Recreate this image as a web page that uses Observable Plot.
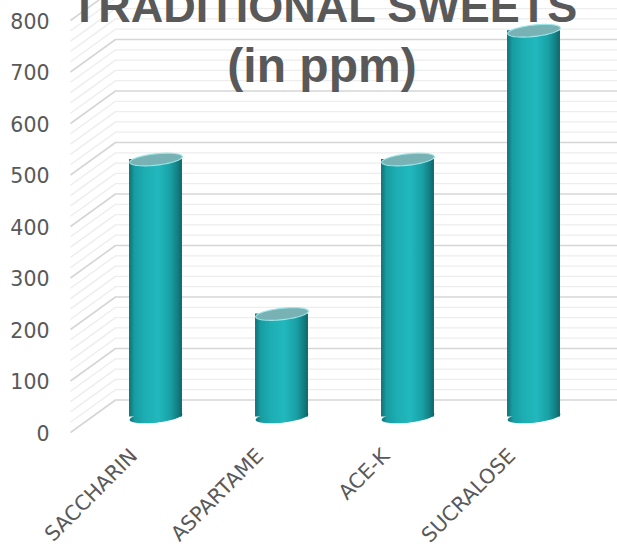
<!DOCTYPE html>
<html>
<head>
<meta charset="utf-8">
<script src="https://cdn.jsdelivr.net/npm/d3@7"></script>
<script src="https://cdn.jsdelivr.net/npm/@observablehq/plot@0.6"></script>
<style>
  html, body { margin: 0; padding: 0; background: #ffffff; }
  #chart svg { display: block; }
</style>
</head>
<body>
<div id="chart"></div>
<script>
// Sweetener concentrations (ppm)
const categories = ["SACCHARIN", "ASPARTAME", "ACE-K", "SUCRALOSE"];
const values = [500, 200, 500, 750];
const yTicks = [0, 100, 200, 300, 400, 500, 600, 700, 800];
const minorStep = 20;
const titleLines = ["TRADITIONAL SWEETS", "(in ppm)"];

const rows = categories.map((category, index) => ({category, index, value: values[index], base: 0}));

// Frame and pseudo-3D depth (pixel offsets of the back wall and front edge from the column plane)
const W = 617, H = 548;
const margin = {left: 92.5, right: 20.5, top: 4.5, bottom: 131.5};
const xDomain = [-0.5, categories.length - 0.5];
const yDomain = [0, 800];
const back = {dx: 22.5, dy: -17};
const front = {dx: -22.5, dy: 15.5};
const halfBar = 0.21;

const xs = Plot.scale({x: {domain: xDomain, range: [margin.left, W - margin.right]}});
const ys = Plot.scale({y: {domain: yDomain, range: [H - margin.bottom, margin.top]}});
const radius = xs.apply(halfBar) - xs.apply(0);

const majorValues = yTicks;
const minorValues = d3.range(yDomain[0], yDomain[1] + 1, minorStep).filter(v => v % 100 !== 0);

// Left side wall: slanted lines from the front edge back to the rear wall
const wallLine = v => ({
  v,
  x1: xs.invert(xs.apply(xDomain[0]) + front.dx),
  y1: ys.invert(ys.apply(v) + front.dy),
  x2: xs.invert(xs.apply(xDomain[0]) + back.dx),
  y2: ys.invert(ys.apply(v) + back.dy)
});

// Flattened ellipse used for the cylinder caps, tilted slightly for perspective
const tilt = -0.11;
const ellipse = {
  draw(context, size) {
    const rx = Math.sqrt(size / Math.PI), ry = rx * 0.215;
    const c = Math.cos(tilt), s = Math.sin(tilt), n = 64;
    for (let i = 0; i <= n; ++i) {
      const t = (2 * Math.PI * i) / n;
      const ex = rx * Math.cos(t), ey = ry * Math.sin(t);
      const px = ex * c - ey * s, py = ex * s + ey * c;
      if (i === 0) context.moveTo(px, py); else context.lineTo(px, py);
    }
    context.closePath();
  }
};

const gridMinor = {stroke: "#ededed", strokeWidth: 1.3};
const gridMajor = {stroke: "#d6d6d6", strokeWidth: 1.6};
const axisFont = "DejaVu Sans, Verdana, sans-serif";
const titleFont = "Liberation Sans, Arial, sans-serif";

const chart = Plot.plot({
  width: W,
  height: H,
  marginLeft: margin.left,
  marginRight: margin.right,
  marginTop: margin.top,
  marginBottom: margin.bottom,
  x: {domain: xDomain, axis: null},
  y: {domain: yDomain, axis: null},
  style: {background: "#ffffff", overflow: "visible"},
  marks: [
    // side wall and back wall gridlines
    Plot.link(minorValues.map(wallLine), {x1: "x1", y1: "y1", x2: "x2", y2: "y2", ...gridMinor}),
    Plot.ruleY(minorValues, {dx: back.dx, dy: back.dy, ...gridMinor}),
    Plot.link(majorValues.map(wallLine), {x1: "x1", y1: "y1", x2: "x2", y2: "y2", ...gridMajor}),
    Plot.ruleY(majorValues, {dx: back.dx, dy: back.dy, ...gridMajor}),

    // cylinders: rounded base, shaded body, lit top cap
    Plot.dot(rows, {x: "index", y: "base", r: radius, symbol: ellipse, fill: "url(#cylinder)", stroke: "none"}),
    Plot.rect(rows, {x1: d => d.index - halfBar, x2: d => d.index + halfBar, y1: "base", y2: "value", fill: "url(#cylinder)"}),
    Plot.dot(rows, {x: "index", y: "value", r: radius, symbol: ellipse, fill: "#78b2b5", stroke: "#9be6e9", strokeWidth: 1.1}),

    // value axis along the front edge
    Plot.axisY(yTicks, {
      tickSize: 0,
      tickPadding: margin.left - 49,
      dy: front.dy + 1.5,
      fontSize: 20.5,
      fontFamily: axisFont,
      color: "#595959",
      label: null
    }),

    // category labels
    Plot.text(rows, {
      x: "index", y: "base", text: "category",
      rotate: -45, textAnchor: "end", lineAnchor: "middle",
      dx: -22, dy: 35.5,
      fontSize: 20.5, fontFamily: axisFont, fill: "#595959"
    }),

    // title
    Plot.text([titleLines[0]], {
      text: d => d, frameAnchor: "top", lineAnchor: "top", dx: -21, dy: -14.8,
      fontSize: 45, fontWeight: "bold", fontFamily: titleFont, fill: "#595959"
    }),
    Plot.text([titleLines[1]], {
      text: d => d, frameAnchor: "top", lineAnchor: "top", dx: -23, dy: 43.1,
      fontSize: 48, fontWeight: "bold", fontFamily: titleFont, fill: "#595959"
    })
  ]
});

// horizontal shading that gives the columns their round look
d3.select(chart).insert("defs", ":first-child").html(`
  <linearGradient id="cylinder" x1="0" y1="0" x2="1" y2="0">
    <stop offset="0" stop-color="#0f7176"/>
    <stop offset="0.1" stop-color="#179ca1"/>
    <stop offset="0.3" stop-color="#1daeb3"/>
    <stop offset="0.55" stop-color="#21b8bd"/>
    <stop offset="0.78" stop-color="#19a0a5"/>
    <stop offset="0.92" stop-color="#137e82"/>
    <stop offset="1" stop-color="#0e6569"/>
  </linearGradient>`);

document.getElementById("chart").appendChild(chart);
</script>
</body>
</html>
